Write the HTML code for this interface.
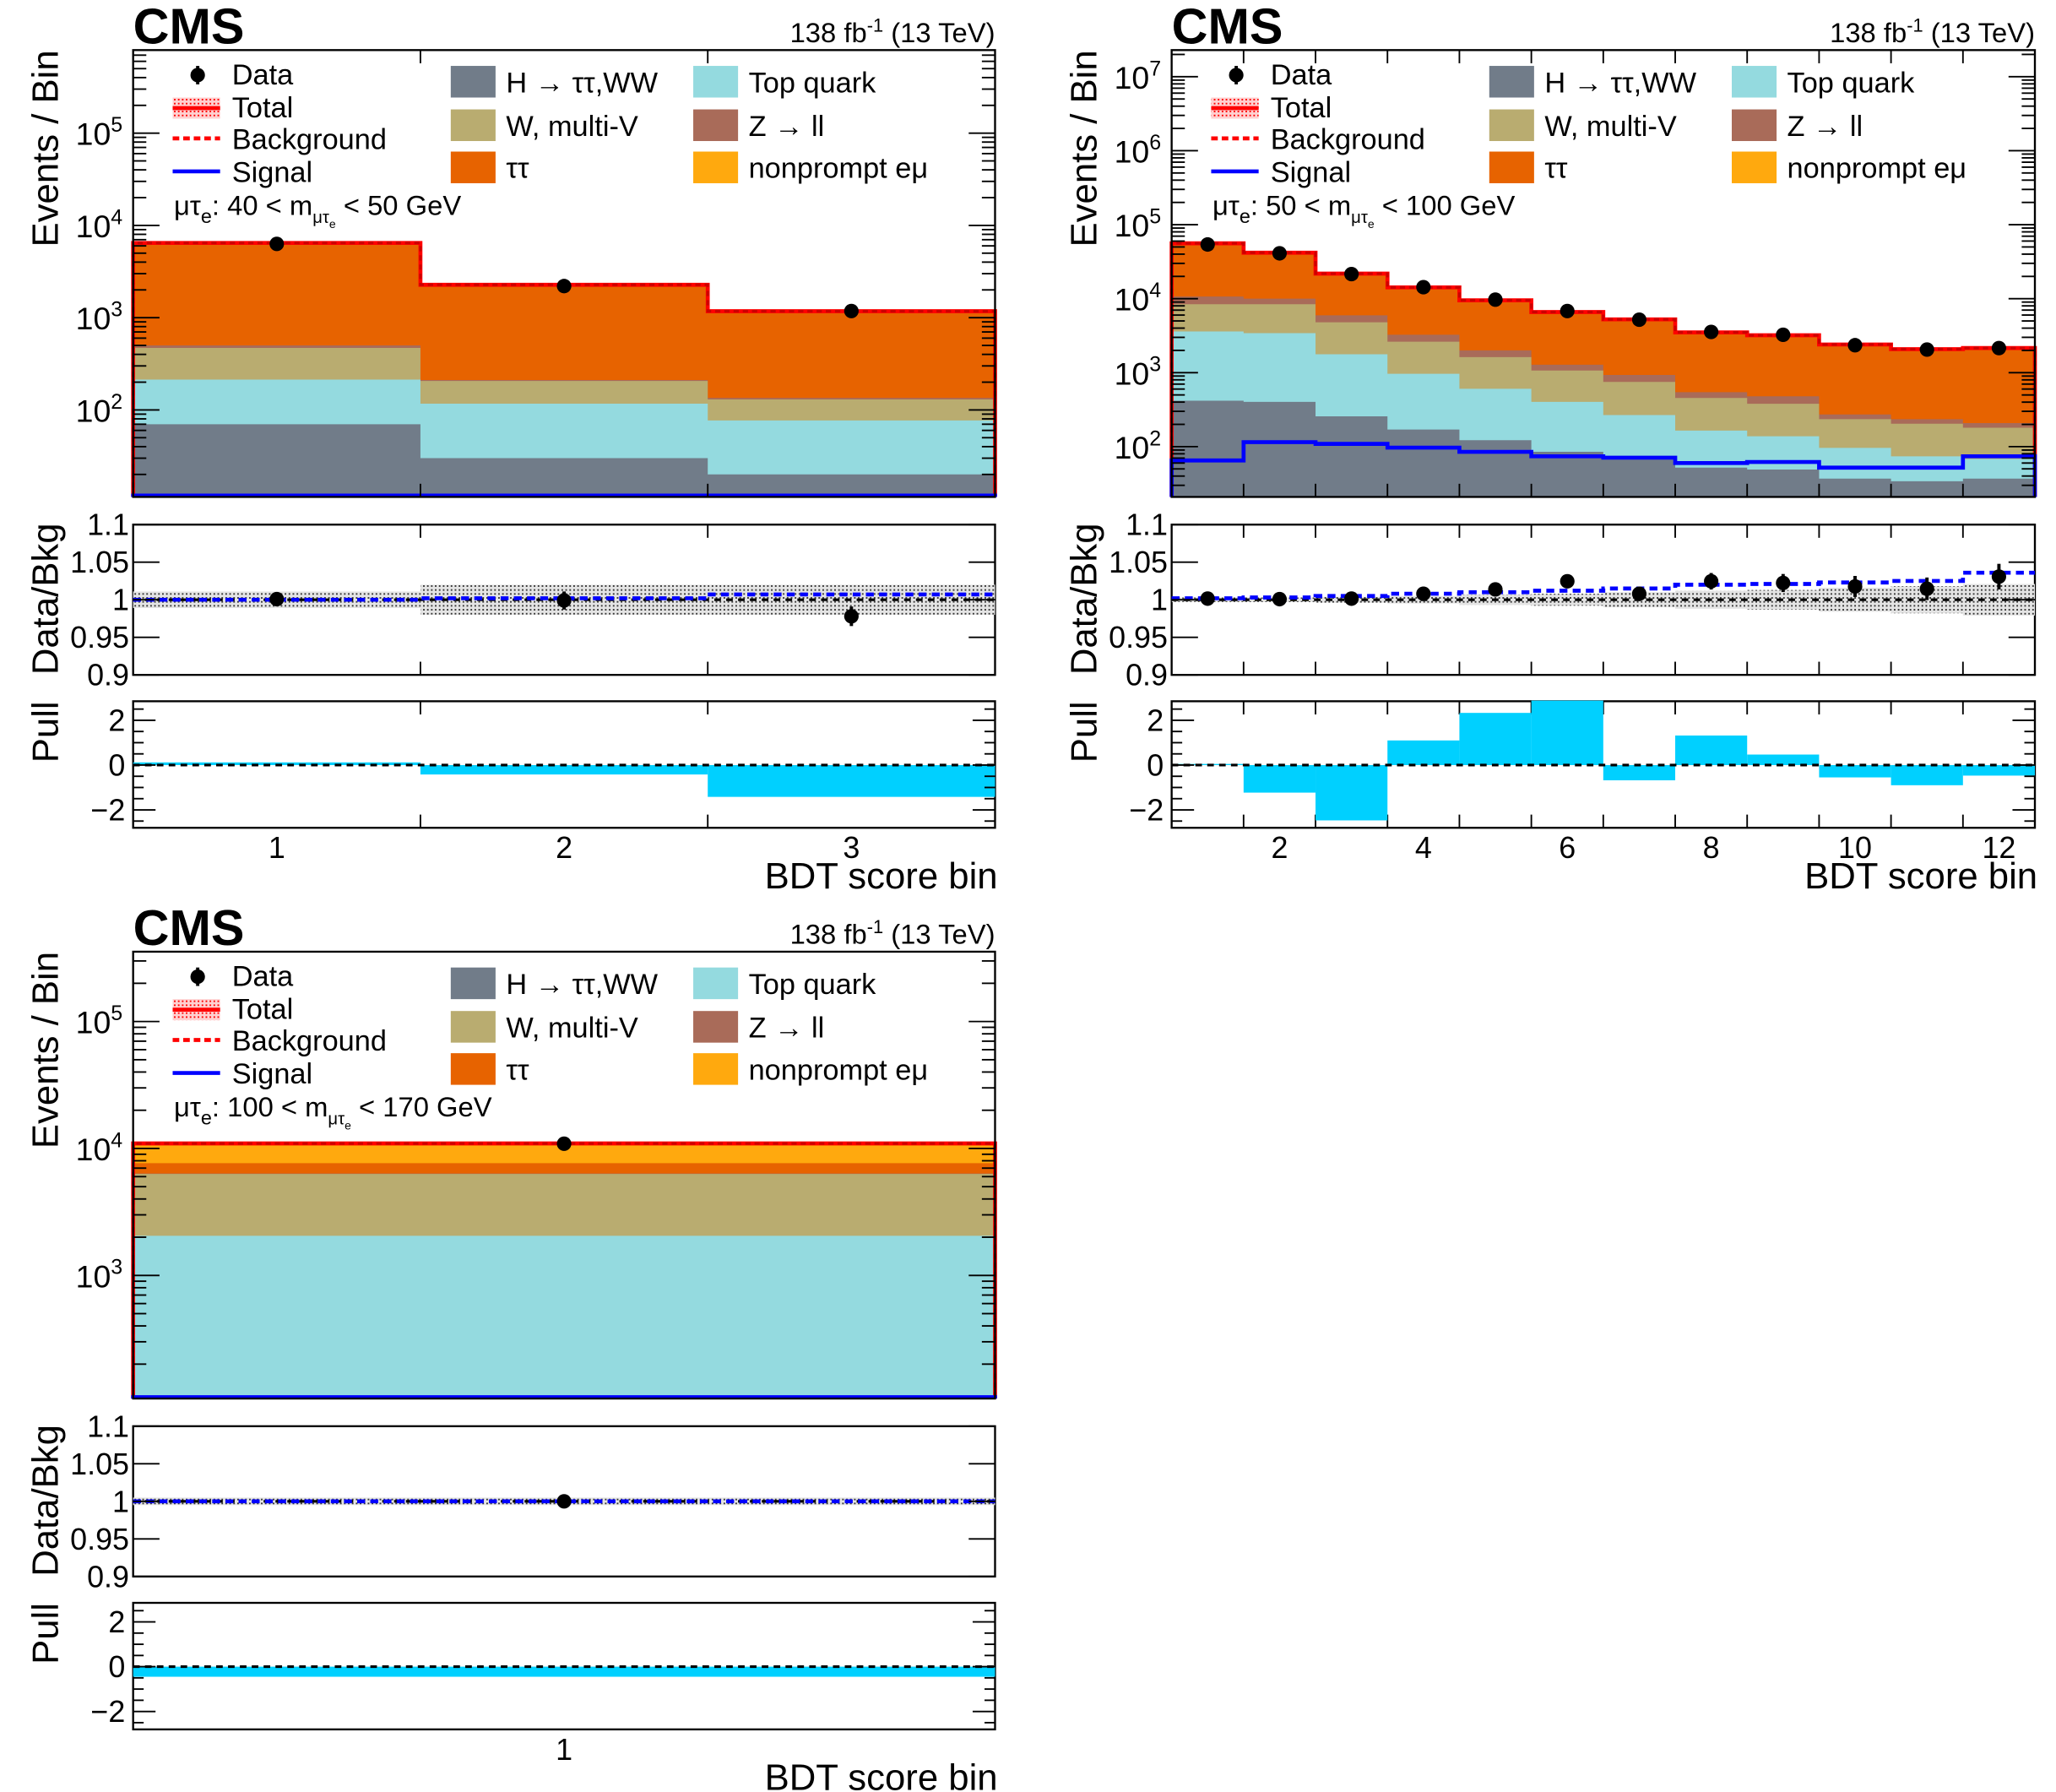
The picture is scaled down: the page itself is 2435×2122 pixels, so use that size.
<!DOCTYPE html>
<html><head><meta charset="utf-8"><style>
html,body{margin:0;padding:0;background:#fff;}
svg{display:block;font-family:"Liberation Sans",sans-serif;}
</style></head><body>
<svg id="fig" xmlns="http://www.w3.org/2000/svg" width="2435" height="2122" viewBox="0 0 1560 1359.5">
<defs>
<pattern id="dots" width="3" height="3" patternUnits="userSpaceOnUse"><rect width="3" height="3" fill="#e4e4e4"/><rect x="0" y="0" width="1.2" height="1.2" fill="#333"/></pattern>
<pattern id="reddots" width="3" height="3" patternUnits="userSpaceOnUse"><rect width="3" height="3" fill="#ffd0d0"/><rect width="1.2" height="1.2" fill="#f00"/></pattern>
</defs>
</svg>
<script>
// ---- data ----
const p1_H=[70,30,20];
const p1_top=[143,87,57];
const p1_W=[257,89,53];
const p1_Z=[30,5,5];
const p1_tt=[5800,2000,1000];
const p1_np=[150,60,40];
const p1_sig=[5,5,5];
const p1_data=[6300,2200,1180];
const p1_ratio=[1.0008,0.999,0.978];
const p1_rerr=[0.004,0.012,0.013];
const p1_sratio=[1.0,1.002,1.007];
const p1_band=[0.011,0.02,0.02];
const p1_pull=[0.12,-0.42,-1.42];

const p2_H=[417,403,257,170,122,85,68,52,49,37,34,37];
const p2_top=[3183,3017,1513,795,484,318,199,113,89,59,40,31];
const p2_W=[4800,4980,3030,1655,1014,667,483,290,242,139,130,112];
const p2_Z=[2300,1600,1150,630,380,210,180,90,100,37,31,28];
const p2_tt=[42500,29700,14750,10250,7020,4990,4060,2780,2560,2008,1740,1834];
const p2_np=[2800,2100,1100,700,480,330,260,175,160,120,105,108];
const p2_sig=[65,115,109,97,85,74,71,60,62,52,52,74];
const p2_data=[54000,41000,21500,14300,9700,6800,5200,3550,3250,2350,2050,2150];
const p2_ratio=[1.0015,1.0008,1.0015,1.008,1.0138,1.0246,1.008,1.0246,1.0223,1.0177,1.0146,1.0308];
const p2_rerr=[0.002,0.002,0.003,0.004,0.005,0.006,0.008,0.011,0.012,0.014,0.015,0.017];
const p2_sratio=[1.002,1.003,1.005,1.008,1.01,1.012,1.015,1.02,1.021,1.023,1.025,1.036];
const p2_band=[0.003,0.003,0.004,0.005,0.007,0.008,0.01,0.012,0.013,0.016,0.018,0.021];
const p2_pull=[0.05,-1.23,-2.47,1.1,2.33,2.88,-0.68,1.32,0.47,-0.55,-0.9,-0.47];

const p3_H=[20];
const p3_top=[2030];
const p3_W=[4250];
const p3_Z=[50];
const p3_tt=[1300];
const p3_np=[3300];
const p3_sig=[10];
const p3_data=[10900];
const p3_ratio=[1.0];
const p3_rerr=[0.001];
const p3_sratio=[1.0];
const p3_band=[0.005];
const p3_pull=[-0.45];

const yTicks1=[2,3,4,5];
const yTicks2=[2,3,4,5,6,7];
const yTicks3=[3,4,5];
const ratioTicks=[0.9,0.95,1,1.05,1.1];
const ratioLabels=["0.9","0.95","1","1.05","1.1"];
const pullTicks=[-2,0,2];
const pullLabels=["\u22122","0","2"];

const NS="http://www.w3.org/2000/svg";
const svg=document.getElementById('fig');
function mk(tag,attrs,parent){const e=document.createElementNS(NS,tag);for(const k in attrs)e.setAttribute(k,attrs[k]);(parent||svg).appendChild(e);return e;}
const COL={H:"#717c89",top:"#94dadf",W:"#b9ac70",Z:"#a96b59",tt:"#e76300",np:"#ffa90e"};

function panel(cfg){
  const g=mk('g',{});
  
  
  const x0=cfg.x0,x1=cfg.x1,oy=cfg.oy,n=cfg.data.length;
  const mt=38+oy,mb=377+oy,rt=398+oy,rb=512+oy,pt=532+oy,pb=628+oy;
  const xs=v=>x0+(v-0.5)/n*(x1-x0);
  const ly=v=>{let l=Math.log10(Math.max(v,1e-3));l=Math.max(l,cfg.lmin);return mb-(l-cfg.lmin)/(cfg.lmax-cfg.lmin)*(mb-mt);};
  const ry=v=>rb-(v-0.9)/0.2*(rb-rt);
  const py=v=>pb-(v+2.8)/5.65*(pb-pt);
  const comps=[["H",cfg.H],["top",cfg.top],["W",cfg.W],["Z",cfg.Z],["tt",cfg.tt],["np",cfg.np]];
  const cum=[];let run=new Array(n).fill(0);
  comps.forEach(c=>{run=run.map((r,i)=>r+c[1][i]);cum.push(run.slice());});
  const total=cum[cum.length-1];
  for(let k=comps.length-1;k>=0;k--){
    let d=`M${x0},${mb}`;
    for(let i=0;i<n;i++){const y=ly(cum[k][i]);d+=`L${xs(i+0.5)},${y}L${xs(i+1.5)},${y}`;}
    d+=`L${x1},${mb}Z`;
    const p=mk('path',{d:d,fill:COL[comps[k][0]]},g);
    
    
  }
  let dt=`M${x0},${mb}`;
  for(let i=0;i<n;i++){const y=ly(total[i]);dt+=`L${xs(i+0.5)},${y}L${xs(i+1.5)},${y}`;}
  dt+=`L${x1},${mb}`;
  const tl=mk('path',{d:dt,fill:"none",stroke:"#f00","stroke-width":3},g);
  
  
  const bl=mk('path',{d:dt,fill:"none",stroke:"#c00","stroke-width":2,"stroke-dasharray":"4,3"},g);
  
  
  let ds=`M${x0},${mb}`;
  for(let i=0;i<n;i++){const y=Math.min(ly(cfg.sig[i]),mb-1);ds+=`L${xs(i+0.5)},${y}L${xs(i+1.5)},${y}`;}
  ds+=`L${x1},${mb}`;
  const sl=mk('path',{d:ds,fill:"none",stroke:"#0000ff","stroke-width":3},g);
  
  
  for(let i=0;i<n;i++){
    const c=mk('circle',{cx:xs(i+1),cy:ly(cfg.data[i]),r:5.5,fill:"#000"},g);
    
    
  }
  [[mt,mb],[rt,rb],[pt,pb]].forEach((f,j)=>{
    const r=mk('rect',{x:x0,y:f[0],width:x1-x0,height:f[1]-f[0],fill:"none",stroke:"#000","stroke-width":1.5},g);
    
    
    for(let i=1;i<n;i++){const x=xs(i+0.5);
      const t1=mk('line',{x1:x,x2:x,y1:f[0],y2:f[0]+10,stroke:"#000","stroke-width":1.2},g);
      
      
      const t2=mk('line',{x1:x,x2:x,y1:f[1],y2:f[1]-10,stroke:"#000","stroke-width":1.2},g);
      
      }
  });
  for(let dec=Math.floor(cfg.lmin);dec<=Math.ceil(cfg.lmax);dec++){
    for(let m=1;m<10;m++){const v=m*Math.pow(10,dec);const l=Math.log10(v);if(l<cfg.lmin||l>cfg.lmax)continue;
      const y=ly(v),len=m==1?20:10;
      const a=mk('line',{x1:x0,x2:x0+len,y1:y,y2:y,stroke:"#000","stroke-width":1.2},g);
      
      
      const b=mk('line',{x1:x1,x2:x1-len,y1:y,y2:y,stroke:"#000","stroke-width":1.2},g);
      
      }
  }
  cfg.yt.forEach(e=>{const y=ly(Math.pow(10,e));
    const t=mk('text',{x:x0-8,y:y+9,"text-anchor":"end","font-size":24},g);
    
    
    t.textContent='10';
    const s=mk('tspan',{dy:-10,"font-size":16},t);s.textContent=String(e);});
  for(let i=0;i<n;i++){
    const r=mk('rect',{x:xs(i+0.5),y:ry(1+cfg.band[i]),width:xs(i+1.5)-xs(i+0.5),height:ry(1-cfg.band[i])-ry(1+cfg.band[i]),fill:"url(#dots)"},g);
    
    
  }
  const one=mk('line',{x1:x0,x2:x1,y1:ry(1),y2:ry(1),stroke:"#000","stroke-width":2,"stroke-dasharray":"5,4"},g);
  
  
  let dr='';
  for(let i=0;i<n;i++){const y=ry(cfg.sratio[i]);dr+=(i?'L':'M')+`${xs(i+0.5)},${y}L${xs(i+1.5)},${y}`;}
  const srl=mk('path',{d:dr,fill:"none",stroke:"#0000ff","stroke-width":3,"stroke-dasharray":"6,4"},g);
  
  
  for(let i=0;i<n;i++){const x=xs(i+1);
    const e=mk('line',{x1:x,x2:x,y1:ry(cfg.ratio[i]+cfg.rerr[i]),y2:ry(cfg.ratio[i]-cfg.rerr[i]),stroke:"#000","stroke-width":2.5},g);
    
    
    const c=mk('circle',{cx:x,cy:ry(cfg.ratio[i]),r:5.5,fill:"#000"},g);
    
    }
  ratioTicks.forEach((v,j)=>{const y=ry(v);
    const a=mk('line',{x1:x0,x2:x0+20,y1:y,y2:y,stroke:"#000","stroke-width":1.2},g);
    
    
    const b=mk('line',{x1:x1,x2:x1-20,y1:y,y2:y,stroke:"#000","stroke-width":1.2},g);
    
    
    const t=mk('text',{x:x0-3,y:y+8,"text-anchor":"end","font-size":23},g);
    
    
    t.textContent=ratioLabels[j];});
  for(let i=0;i<n;i++){const a=py(0),b=py(cfg.pull[i]);
    const r=mk('rect',{x:xs(i+0.5),y:Math.min(a,b),width:xs(i+1.5)-xs(i+0.5),height:Math.abs(a-b),fill:"#00d0ff"},g);
    
    }
  const pz=mk('line',{x1:x0,x2:x1,y1:py(0),y2:py(0),stroke:"#000","stroke-width":2,"stroke-dasharray":"5,4"},g);
  
  
  for(let v=-2.5;v<=2.5;v+=0.5){const y=py(v);const len=(v%2==0)?17:8;
    const a=mk('line',{x1:x0,x2:x0+len,y1:y,y2:y,stroke:"#000","stroke-width":1.2},g);
    
    
    const b=mk('line',{x1:x1,x2:x1-len,y1:y,y2:y,stroke:"#000","stroke-width":1.2},g);
    
    }
  pullTicks.forEach((v,j)=>{
    const t=mk('text',{x:x0-6,y:py(v)+8,"text-anchor":"end","font-size":23},g);
    
    
    t.textContent=pullLabels[j];});
  cfg.xl.forEach(v=>{
    const t=mk('text',{x:xs(v),y:pb+23,"text-anchor":"middle","font-size":23},g);
    
    
    t.textContent=String(v);});
  const xt=mk('text',{x:x1+2,y:pb+46,"text-anchor":"end","font-size":28},g);
  
  
  xt.textContent='BDT score bin';
  const yt=mk('text',{transform:`translate(${x0-57},${mt}) rotate(-90)`,"text-anchor":"end","font-size":28},g);
  
  
  yt.textContent='Events / Bin';
  const rtt=mk('text',{transform:`translate(${x0-57},${rb}) rotate(-90)`,"text-anchor":"start","font-size":28},g);
  
  
  rtt.textContent='Data/Bkg';
  const ptt=mk('text',{transform:`translate(${x0-57},${pt}) rotate(-90)`,"text-anchor":"end","font-size":28},g);
  
  
  ptt.textContent='Pull';
  const cms=mk('text',{x:x0,y:oy+33,"font-size":38,"font-weight":"bold"},g);
  
  
  cms.textContent='CMS';
  const lumi=mk('text',{x:x1,y:oy+32,"text-anchor":"end","font-size":21},g);
  
  
  lumi.innerHTML='138 fb<tspan dy="-8" font-size="14">-1</tspan><tspan dy="8"> (13 TeV)</tspan>';
  const lx=x0,ly0=oy;
  const dm=mk('circle',{cx:lx+49,cy:ly0+57,r:5.5,fill:"#000"},g);
  
  
  const dml=mk('line',{x1:lx+49,x2:lx+49,y1:ly0+50,y2:ly0+64,stroke:"#000","stroke-width":2.5},g);
  
  
  const tb=mk('rect',{x:lx+30,y:ly0+74,width:36,height:16,fill:"url(#reddots)"},g);
  
  
  const tln=mk('line',{x1:lx+30,x2:lx+66,y1:ly0+82,y2:ly0+82,stroke:"#f00","stroke-width":3},g);
  
  
  const bgl=mk('line',{x1:lx+30,x2:lx+66,y1:ly0+105,y2:ly0+105,stroke:"#f00","stroke-width":3,"stroke-dasharray":"5,3"},g);
  
  
  const sgl=mk('line',{x1:lx+30,x2:lx+66,y1:ly0+130,y2:ly0+130,stroke:"#0000ff","stroke-width":3},g);
  
  
  [["Data",64],["Total",89],["Background",113],["Signal",138]].forEach(a=>{
    const t=mk('text',{x:lx+75,y:ly0+a[1],"font-size":22},g);
    
    
    t.textContent=a[0];});
  const ents=[["H",241,62,"H \u2192 \u03c4\u03c4,WW"],["W",241,95,"W, multi-V"],["tt",241,127,"\u03c4\u03c4"],["top",425,62,"Top quark"],["Z",425,95,"Z \u2192 ll"],["np",425,127,"nonprompt e\u03bc"]];
  ents.forEach(a=>{
    const r=mk('rect',{x:lx+a[1],y:ly0+a[2]-12,width:34,height:24,fill:COL[a[0]]},g);
    
    
    const t=mk('text',{x:lx+a[1]+42,y:ly0+a[2]+8,"font-size":22},g);
    
    
    t.textContent=a[3];});
  const cat=mk('text',{x:lx+31,y:ly0+163,"font-size":21},g);
  
  
  cat.innerHTML='\u03bc\u03c4<tspan dy="6" font-size="15">e</tspan><tspan dy="-6">: '+cfg.lo+' &lt; m</tspan><tspan dy="6" font-size="13">\u03bc\u03c4</tspan><tspan dy="4" font-size="9">e</tspan><tspan dy="-10"> &lt; '+cfg.hi+' GeV</tspan>';
}

panel({name:'panel-40-50',x0:101,x1:755,oy:0,lmin:1.057,lmax:5.9,yt:yTicks1,xl:[1,2,3],lo:40,hi:50,
  H:p1_H,top:p1_top,W:p1_W,Z:p1_Z,tt:p1_tt,np:p1_np,sig:p1_sig,data:p1_data,ratio:p1_ratio,rerr:p1_rerr,sratio:p1_sratio,band:p1_band,pull:p1_pull});
panel({name:'panel-50-100',x0:889,x1:1544,oy:0,lmin:1.32,lmax:7.36,yt:yTicks2,xl:[2,4,6,8,10,12],lo:50,hi:100,
  H:p2_H,top:p2_top,W:p2_W,Z:p2_Z,tt:p2_tt,np:p2_np,sig:p2_sig,data:p2_data,ratio:p2_ratio,rerr:p2_rerr,sratio:p2_sratio,band:p2_band,pull:p2_pull});
panel({name:'panel-100-170',x0:101,x1:755,oy:684,lmin:2.03,lmax:5.55,yt:yTicks3,xl:[1],lo:100,hi:170,
  H:p3_H,top:p3_top,W:p3_W,Z:p3_Z,tt:p3_tt,np:p3_np,sig:p3_sig,data:p3_data,ratio:p3_ratio,rerr:p3_rerr,sratio:p3_sratio,band:p3_band,pull:p3_pull});
</script>
</body></html>
